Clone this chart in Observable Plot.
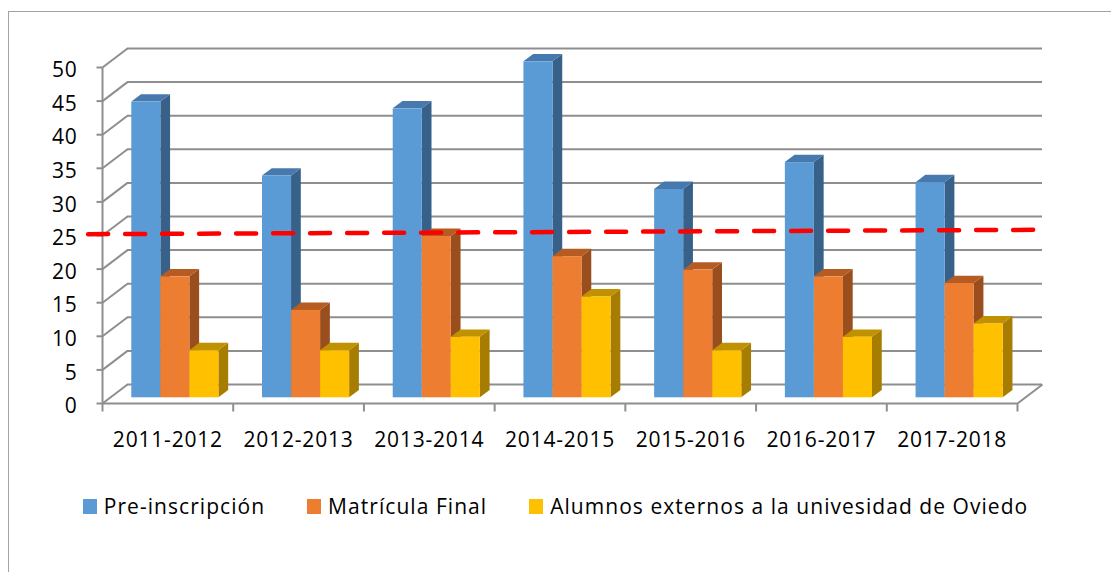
<!DOCTYPE html>
<html>
<head>
<meta charset="utf-8">
<script src="https://cdn.jsdelivr.net/npm/d3@7"></script>
<script src="https://cdn.jsdelivr.net/npm/@observablehq/plot@0.6"></script>
<style>
  html, body { margin: 0; padding: 0; background: #fff; overflow: hidden; }
  body { width: 1111px; height: 572px; position: relative; font-family: "Open Sans", sans-serif; color: #000; }
  #frame { position: absolute; left: 8px; top: 11px; width: 1300px; height: 800px; border: 1px solid #a3a3a3; box-sizing: border-box; }
  #chart { position: absolute; left: 0; top: 0; }
  #chart svg text { letter-spacing: 0.8px; }
  #legend { position: absolute; left: 0; top: 491px; width: 1111px; height: 30px; display: flex; justify-content: center; align-items: center; gap: 42px; font-size: 21px; letter-spacing: 1.05px; }
  .item { display: flex; align-items: center; }
  .sw { width: 14px; height: 15px; margin-right: 7px; }
</style>
</head>
<body>
<div id="frame"></div>
<div id="chart"></div>
<div id="legend"></div>
<script>
// ---- Data ----
const categories = ["2011-2012", "2012-2013", "2013-2014", "2014-2015", "2015-2016", "2016-2017", "2017-2018"];
const preinscripcion = [44, 33, 43, 50, 31, 35, 32];
const matriculaFinal = [18, 13, 24, 21, 19, 18, 17];
const alumnosExternos = [7, 7, 9, 15, 7, 9, 11];
const seriesNames = ["Pre-inscripción", "Matrícula Final", "Alumnos externos a la univesidad de Oviedo"];
const yTicks = [0, 5, 10, 15, 20, 25, 30, 35, 40, 45, 50];
// hand-drawn red dashed reference line (start / end heights)
const refLineX = [-0.11, 7.2];
const refLineY = [25.2, 25.85];

// ---- Styling ----
const frontColors = ["#5b9bd5", "#ed7d31", "#ffc000"];
const sideColors = ["#386189", "#9a4d1d", "#a67d00"];
const topColors = ["#4679ad", "#b65c22", "#c09100"];
const gridColor = "#8e8e8e";

// 3D oblique depth (in data units of the scales)
const xUnit = 915 / 7, yUnit = 336 / 50;
const DX = 25 / xUnit, DY = 19 / yUnit;
const planeF = 0.3, depthF = 0.39;
const barW = 1 / 4.5, inset = 0.75 * barW;

const seriesValues = [preinscripcion, matriculaFinal, alumnosExternos];
const bars = [];
categories.forEach((c, i) => {
  seriesValues.forEach((vals, s) => {
    const x1 = i + inset + s * barW + planeF * DX;
    bars.push({id: i * 3 + s, s, v: vals[i], x1, x2: x1 + barW, b: planeF * DY});
  });
});
const sidePts = bars.flatMap(d => [0, 1].map(t => ({
  id: d.id, fill: sideColors[d.s],
  x: d.x2 + t * depthF * DX,
  y1: d.b + t * depthF * DY,
  y2: d.b + d.v + t * depthF * DY
})));
const topPts = bars.flatMap(d => [0, 1].map(t => ({
  id: d.id, fill: topColors[d.s],
  y: d.b + d.v + t * depthF * DY,
  x1: d.x1 + t * depthF * DX,
  x2: d.x2 + t * depthF * DX
})));
const refLine = refLineX.map((x, k) => ({x, y: refLineY[k]}));
const catTicks = d3.range(categories.length + 1);

const chart = Plot.plot({
  width: 1111,
  height: 480,
  marginLeft: 102,
  marginRight: 94,
  marginTop: 67,
  marginBottom: 77,
  x: {type: "linear", domain: [0, 7], axis: null},
  y: {type: "linear", domain: [0, 50], axis: null},
  color: {type: "identity"},
  style: {fontFamily: "'Open Sans', sans-serif", background: "transparent", overflow: "visible"},
  marks: [
    // back wall gridlines
    Plot.ruleY(yTicks, {y: d => d + DY, x1: () => DX, x2: () => 7 + DX, stroke: gridColor, strokeWidth: 2}),
    // left wall diagonals
    Plot.link(yTicks, {x1: () => 0, y1: d => d, x2: () => DX, y2: d => d + DY, stroke: gridColor, strokeWidth: 2}),
    // front vertical axis line
    Plot.link([0], {x1: () => 0, x2: () => 0, y1: () => 0, y2: () => 50, stroke: gridColor, strokeWidth: 2}),
    // y tick marks
    Plot.link(yTicks, {x1: () => 0, x2: () => -6 / xUnit, y1: d => d, y2: d => d, stroke: gridColor, strokeWidth: 2}),
    // floor front edge and right edge
    Plot.link([0], {x1: () => 0, x2: () => 7, y1: () => 0, y2: () => 0, stroke: gridColor, strokeWidth: 2}),
    Plot.link([0], {x1: () => 7, x2: () => 7 + DX, y1: () => 0, y2: () => DY, stroke: gridColor, strokeWidth: 2}),
    // category tick marks
    Plot.link(catTicks, {x1: d => d, x2: d => d, y1: () => 0, y2: () => -8 / yUnit, stroke: gridColor, strokeWidth: 2}),
    // bars: side faces, top faces, front faces
    Plot.areaY(sidePts, {x: "x", y1: "y1", y2: "y2", z: "id", fill: "fill"}),
    Plot.areaX(topPts, {y: "y", x1: "x1", x2: "x2", z: "id", fill: "fill"}),
    Plot.rect(bars, {x1: "x1", x2: "x2", y1: "b", y2: d => d.b + d.v, fill: d => frontColors[d.s]}),
    // y labels
    Plot.text(yTicks, {x: () => 0, y: d => d, text: d => String(d), dx: -25, dy: 3, textAnchor: "end", fontSize: 21, fill: "#000"}),
    // category labels
    Plot.text(categories, {x: (d, i) => i + 0.5, y: () => 0, text: d => d, dy: 37, fontSize: 21, fill: "#000"}),
    // red dashed reference line
    Plot.line(refLine, {x: "x", y: "y", stroke: "#ff0000", strokeWidth: 4.5, strokeDasharray: "20,17"})
  ]
});
document.getElementById("chart").appendChild(chart);

// legend
const legend = document.getElementById("legend");
seriesNames.forEach((name, s) => {
  const item = document.createElement("div");
  item.className = "item";
  const sw = document.createElement("div");
  sw.className = "sw";
  sw.style.background = frontColors[s];
  const tx = document.createElement("span");
  tx.textContent = name;
  item.appendChild(sw);
  item.appendChild(tx);
  legend.appendChild(item);
});
</script>
</body>
</html>
